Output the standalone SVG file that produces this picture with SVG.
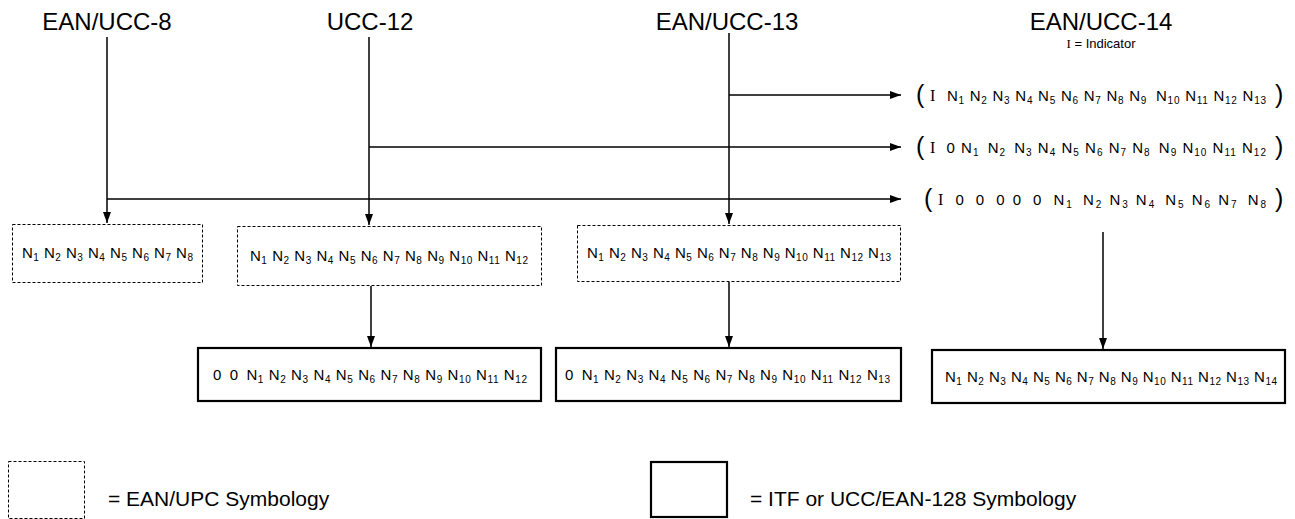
<svg xmlns="http://www.w3.org/2000/svg" width="1295" height="519" viewBox="0 0 1295 519">
<style>
text{font-family:"Liberation Sans",Arial,sans-serif;fill:#000}
.t{font-size:24px;text-anchor:middle}
.n{font-size:15px}
.s{font-size:10px}
.sf{font-family:"Liberation Serif","Times New Roman",serif;font-size:16px}
.p{font-size:25px}
.dash{fill:#fff;stroke:#000;stroke-width:1;stroke-dasharray:3,2}
.solid{fill:#fff;stroke:#000;stroke-width:2.2}
.ln{stroke:#000;stroke-width:1.5;fill:none}
.lg{font-size:21px}
</style>
<defs>
<marker id="ah" markerUnits="userSpaceOnUse" markerWidth="12" markerHeight="10" refX="11" refY="5" orient="auto">
<path d="M0,1 L11,5 L0,9 z" fill="#000"/>
</marker>
</defs>
<g id="titles">
<text class="t" x="107" y="30">EAN/UCC-8</text>
<text class="t" x="370" y="30">UCC-12</text>
<text class="t" x="727" y="30">EAN/UCC-13</text>
<g id="ean14-title">
<text class="t" x="1101" y="30">EAN/UCC-14</text>
<text x="1101" y="48" style="font-size:13px;text-anchor:middle"><tspan class="sf" style="font-size:13px">I</tspan> = Indicator</text>
</g>
</g>
<g id="connectors">
<line class="ln" x1="107" y1="37" x2="107" y2="223" marker-end="url(#ah)"/>
<line class="ln" x1="107" y1="199" x2="901" y2="199" marker-end="url(#ah)"/>
<line class="ln" x1="369" y1="37" x2="369" y2="225" marker-end="url(#ah)"/>
<line class="ln" x1="369" y1="147" x2="901" y2="147" marker-end="url(#ah)"/>
<line class="ln" x1="729" y1="33" x2="729" y2="224" marker-end="url(#ah)"/>
<line class="ln" x1="729" y1="95" x2="901" y2="95" marker-end="url(#ah)"/>
<line class="ln" x1="371" y1="286" x2="371" y2="347" marker-end="url(#ah)"/>
<line class="ln" x1="729" y1="282" x2="729" y2="347" marker-end="url(#ah)"/>
<line class="ln" x1="1103" y1="232" x2="1103" y2="349" marker-end="url(#ah)"/>
</g>
<g id="ean14-row1">
<text class="p" x="916" y="103">(</text>
<text class="n" x="930" y="101" textLength="336" lengthAdjust="spacing"><tspan class="sf">I</tspan> <tspan dx="6">N</tspan><tspan class="s" baseline-shift="-3">1</tspan> N<tspan class="s" baseline-shift="-3">2</tspan> N<tspan class="s" baseline-shift="-3">3</tspan> N<tspan class="s" baseline-shift="-3">4</tspan> N<tspan class="s" baseline-shift="-3">5</tspan> N<tspan class="s" baseline-shift="-3">6</tspan> N<tspan class="s" baseline-shift="-3">7</tspan> N<tspan class="s" baseline-shift="-3">8</tspan> N<tspan class="s" baseline-shift="-3">9</tspan> <tspan dx="4">N</tspan><tspan class="s" baseline-shift="-3">10</tspan> N<tspan class="s" baseline-shift="-3">11</tspan> N<tspan class="s" baseline-shift="-3">12</tspan> N<tspan class="s" baseline-shift="-3">13</tspan></text>
<text class="p" x="1275" y="103">)</text>
</g>
<g id="ean14-row2">
<text class="p" x="916" y="155">(</text>
<text class="n" x="930" y="153" textLength="336" lengthAdjust="spacing"><tspan class="sf">I</tspan> <tspan dx="5">0</tspan> N<tspan class="s" baseline-shift="-3">1</tspan> <tspan dx="3">N</tspan><tspan class="s" baseline-shift="-3">2</tspan> <tspan dx="3">N</tspan><tspan class="s" baseline-shift="-3">3</tspan> N<tspan class="s" baseline-shift="-3">4</tspan> N<tspan class="s" baseline-shift="-3">5</tspan> N<tspan class="s" baseline-shift="-3">6</tspan> N<tspan class="s" baseline-shift="-3">7</tspan> N<tspan class="s" baseline-shift="-3">8</tspan> <tspan dx="3">N</tspan><tspan class="s" baseline-shift="-3">9</tspan> N<tspan class="s" baseline-shift="-3">10</tspan> N<tspan class="s" baseline-shift="-3">11</tspan> N<tspan class="s" baseline-shift="-3">12</tspan></text>
<text class="p" x="1275" y="155">)</text>
</g>
<g id="ean14-row3">
<text class="p" x="924" y="207">(</text>
<text class="n" x="938" y="205" textLength="328" lengthAdjust="spacing"><tspan class="sf">I</tspan> <tspan dx="4">0</tspan> <tspan dx="4">0</tspan> <tspan dx="4">0</tspan> 0 <tspan dx="4">0</tspan> <tspan dx="4">N</tspan><tspan class="s" baseline-shift="-3">1</tspan> <tspan dx="3">N</tspan><tspan class="s" baseline-shift="-3">2</tspan> N<tspan class="s" baseline-shift="-3">3</tspan> N<tspan class="s" baseline-shift="-3">4</tspan> <tspan dx="3">N</tspan><tspan class="s" baseline-shift="-3">5</tspan> N<tspan class="s" baseline-shift="-3">6</tspan> N<tspan class="s" baseline-shift="-3">7</tspan> <tspan dx="3">N</tspan><tspan class="s" baseline-shift="-3">8</tspan></text>
<text class="p" x="1275" y="207">)</text>
</g>
<g id="box-ean8">
<rect class="dash" x="12.5" y="224.5" width="190" height="58"/>
<text class="n" x="22" y="258" textLength="171" lengthAdjust="spacing">N<tspan class="s" baseline-shift="-3">1</tspan> N<tspan class="s" baseline-shift="-3">2</tspan> N<tspan class="s" baseline-shift="-3">3</tspan> N<tspan class="s" baseline-shift="-3">4</tspan> N<tspan class="s" baseline-shift="-3">5</tspan> N<tspan class="s" baseline-shift="-3">6</tspan> N<tspan class="s" baseline-shift="-3">7</tspan> N<tspan class="s" baseline-shift="-3">8</tspan></text>
</g>
<g id="box-ucc12">
<rect class="dash" x="237.5" y="226.5" width="304" height="59"/>
<text class="n" x="250" y="261" textLength="278" lengthAdjust="spacing">N<tspan class="s" baseline-shift="-3">1</tspan> N<tspan class="s" baseline-shift="-3">2</tspan> N<tspan class="s" baseline-shift="-3">3</tspan> N<tspan class="s" baseline-shift="-3">4</tspan> N<tspan class="s" baseline-shift="-3">5</tspan> N<tspan class="s" baseline-shift="-3">6</tspan> N<tspan class="s" baseline-shift="-3">7</tspan> N<tspan class="s" baseline-shift="-3">8</tspan> N<tspan class="s" baseline-shift="-3">9</tspan> N<tspan class="s" baseline-shift="-3">10</tspan> N<tspan class="s" baseline-shift="-3">11</tspan> N<tspan class="s" baseline-shift="-3">12</tspan></text>
</g>
<g id="box-ean13">
<rect class="dash" x="577.5" y="225.5" width="323" height="56"/>
<text class="n" x="587" y="258" textLength="304" lengthAdjust="spacing">N<tspan class="s" baseline-shift="-3">1</tspan> N<tspan class="s" baseline-shift="-3">2</tspan> N<tspan class="s" baseline-shift="-3">3</tspan> N<tspan class="s" baseline-shift="-3">4</tspan> N<tspan class="s" baseline-shift="-3">5</tspan> N<tspan class="s" baseline-shift="-3">6</tspan> N<tspan class="s" baseline-shift="-3">7</tspan> N<tspan class="s" baseline-shift="-3">8</tspan> N<tspan class="s" baseline-shift="-3">9</tspan> N<tspan class="s" baseline-shift="-3">10</tspan> N<tspan class="s" baseline-shift="-3">11</tspan> N<tspan class="s" baseline-shift="-3">12</tspan> N<tspan class="s" baseline-shift="-3">13</tspan></text>
</g>
<g id="box-ucc12-itf">
<rect class="solid" x="198" y="348" width="343" height="53"/>
<text class="n" x="213" y="380" textLength="314" lengthAdjust="spacing">0 <tspan dx="3">0</tspan> <tspan dx="3">N</tspan><tspan class="s" baseline-shift="-3">1</tspan> N<tspan class="s" baseline-shift="-3">2</tspan> N<tspan class="s" baseline-shift="-3">3</tspan> N<tspan class="s" baseline-shift="-3">4</tspan> N<tspan class="s" baseline-shift="-3">5</tspan> N<tspan class="s" baseline-shift="-3">6</tspan> N<tspan class="s" baseline-shift="-3">7</tspan> N<tspan class="s" baseline-shift="-3">8</tspan> N<tspan class="s" baseline-shift="-3">9</tspan> N<tspan class="s" baseline-shift="-3">10</tspan> N<tspan class="s" baseline-shift="-3">11</tspan> N<tspan class="s" baseline-shift="-3">12</tspan></text>
</g>
<g id="box-ean13-itf">
<rect class="solid" x="556" y="348" width="345" height="53"/>
<text class="n" x="565" y="380" textLength="325" lengthAdjust="spacing">0 <tspan dx="3">N</tspan><tspan class="s" baseline-shift="-3">1</tspan> N<tspan class="s" baseline-shift="-3">2</tspan> N<tspan class="s" baseline-shift="-3">3</tspan> N<tspan class="s" baseline-shift="-3">4</tspan> N<tspan class="s" baseline-shift="-3">5</tspan> N<tspan class="s" baseline-shift="-3">6</tspan> N<tspan class="s" baseline-shift="-3">7</tspan> N<tspan class="s" baseline-shift="-3">8</tspan> N<tspan class="s" baseline-shift="-3">9</tspan> N<tspan class="s" baseline-shift="-3">10</tspan> N<tspan class="s" baseline-shift="-3">11</tspan> N<tspan class="s" baseline-shift="-3">12</tspan> N<tspan class="s" baseline-shift="-3">13</tspan></text>
</g>
<g id="box-ean14-itf">
<rect class="solid" x="932" y="350" width="353" height="53"/>
<text class="n" x="945" y="382" textLength="332" lengthAdjust="spacing">N<tspan class="s" baseline-shift="-3">1</tspan> N<tspan class="s" baseline-shift="-3">2</tspan> N<tspan class="s" baseline-shift="-3">3</tspan> N<tspan class="s" baseline-shift="-3">4</tspan> N<tspan class="s" baseline-shift="-3">5</tspan> N<tspan class="s" baseline-shift="-3">6</tspan> N<tspan class="s" baseline-shift="-3">7</tspan> N<tspan class="s" baseline-shift="-3">8</tspan> N<tspan class="s" baseline-shift="-3">9</tspan> N<tspan class="s" baseline-shift="-3">10</tspan> N<tspan class="s" baseline-shift="-3">11</tspan> N<tspan class="s" baseline-shift="-3">12</tspan> N<tspan class="s" baseline-shift="-3">13</tspan> N<tspan class="s" baseline-shift="-3">14</tspan></text>
</g>
<g id="legend-dashed">
<rect class="dash" x="8.5" y="461.5" width="76" height="57"/>
<text class="lg" x="108" y="506">= EAN/UPC Symbology</text>
</g>
<g id="legend-solid">
<rect class="solid" x="651" y="462" width="76" height="55"/>
<text class="lg" x="750" y="506">= ITF or UCC/EAN-128 Symbology</text>
</g>
</svg>
